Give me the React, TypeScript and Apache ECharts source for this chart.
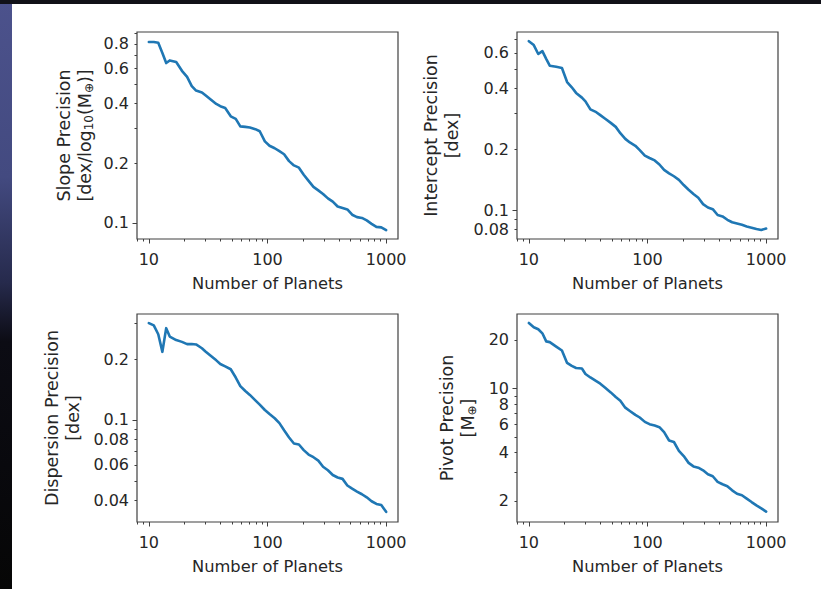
import React, { useEffect, useRef } from 'react';
import * as echarts from 'echarts';

// ---------- data ----------
const planets = [10, 11, 12, 13, 14, 15, 17, 19, 21, 23, 25, 28, 30, 33, 37, 40, 44, 49, 54, 59, 65, 71, 79, 86, 95, 104, 115, 126, 138, 152, 167, 184, 202, 222, 244, 268, 294, 323, 355, 390, 429, 471, 517, 568, 625, 686, 754, 828, 910, 1000];

const slopePrecision = [0.818, 0.818, 0.81, 0.72, 0.64, 0.66, 0.648, 0.585, 0.545, 0.49, 0.465, 0.455, 0.44, 0.42, 0.398, 0.388, 0.38, 0.345, 0.335, 0.307, 0.305, 0.303, 0.297, 0.29, 0.258, 0.245, 0.238, 0.23, 0.222, 0.205, 0.195, 0.19, 0.175, 0.163, 0.152, 0.146, 0.14, 0.133, 0.128, 0.121, 0.119, 0.117, 0.11, 0.107, 0.106, 0.103, 0.099, 0.0955, 0.095, 0.092];

const interceptPrecision = [0.685, 0.655, 0.592, 0.612, 0.56, 0.518, 0.512, 0.505, 0.43, 0.405, 0.38, 0.36, 0.345, 0.315, 0.305, 0.295, 0.283, 0.27, 0.258, 0.24, 0.225, 0.216, 0.208, 0.198, 0.186, 0.181, 0.176, 0.168, 0.158, 0.152, 0.147, 0.141, 0.133, 0.126, 0.12, 0.115, 0.107, 0.103, 0.101, 0.0945, 0.093, 0.0895, 0.087, 0.0858, 0.0845, 0.083, 0.0818, 0.0805, 0.0797, 0.081];

const dispersionPrecision = [0.301, 0.293, 0.265, 0.217, 0.284, 0.258, 0.248, 0.243, 0.237, 0.237, 0.236, 0.226, 0.218, 0.208, 0.197, 0.189, 0.184, 0.178, 0.162, 0.147, 0.139, 0.133, 0.125, 0.119, 0.112, 0.107, 0.102, 0.0965, 0.089, 0.082, 0.0765, 0.0757, 0.071, 0.0675, 0.0655, 0.063, 0.0588, 0.0565, 0.0535, 0.052, 0.0512, 0.0475, 0.0458, 0.0443, 0.043, 0.0415, 0.0397, 0.0385, 0.038, 0.0352];

const pivotPrecision = [25.5, 24.0, 23.3, 22.0, 19.6, 19.4, 18.2, 17.2, 14.4, 13.8, 13.4, 13.3, 12.3, 11.7, 11.1, 10.7, 10.1, 9.45, 8.85, 8.4, 7.6, 7.25, 6.85, 6.6, 6.2, 6.0, 5.88, 5.75, 5.35, 4.75, 4.65, 4.1, 3.8, 3.45, 3.28, 3.22, 3.1, 2.93, 2.85, 2.63, 2.54, 2.47, 2.33, 2.22, 2.17, 2.07, 1.97, 1.88, 1.8, 1.72];

// tick values
const xMajorTicks = [10, 100, 1000];
const xMinorTicks = [8, 9, 20, 30, 40, 50, 60, 70, 80, 90, 200, 300, 400, 500, 600, 700, 800, 900];

const slopeLabels = [0.1, 0.2, 0.4, 0.6, 0.8];
const slopeMajor = [0.1];
const slopeMinor = [0.2, 0.3, 0.4, 0.5, 0.6, 0.7, 0.8, 0.9];

const interceptLabels = [0.08, 0.1, 0.2, 0.4, 0.6];
const interceptMajor = [0.1];
const interceptMinor = [0.08, 0.09, 0.2, 0.3, 0.4, 0.5, 0.6, 0.7];

const dispersionLabels = [0.04, 0.06, 0.08, 0.1, 0.2];
const dispersionMajor = [0.1];
const dispersionMinor = [0.04, 0.05, 0.06, 0.07, 0.08, 0.09, 0.2, 0.3];

const pivotLabels = [2, 4, 6, 8, 10, 20];
const pivotMajor = [10];
const pivotMinor = [2, 3, 4, 5, 6, 7, 8, 9, 20];

const xTitle = 'Number of Planets';
const slopeTitle = 'Slope Precision\n[dex/log{sub|10}(M{sub|⊕})]';
const interceptTitle = 'Intercept Precision\n[dex]';
const dispersionTitle = 'Dispersion Precision\n[dex]';
const pivotTitle = 'Pivot Precision\n[M{sub|⊕}]';

// ---------- layout / style ----------
const W = 821;
const H = 589;
const X_MIN = Math.pow(10, 0.9);
const X_MAX = Math.pow(10, 3.1);
const FONT = 'DejaVu Sans';
const TEXT = '#262626';
const BOX = '#404040';
const LINE = '#1f77b4';

const panels = [
  { values: slopePrecision, title: slopeTitle, labels: slopeLabels, major: slopeMajor, minor: slopeMinor, yMin: 0.083, yMax: 0.918, left: 137, top: 32, width: 261, height: 207, nameGap: 42 },
  { values: interceptPrecision, title: interceptTitle, labels: interceptLabels, major: interceptMajor, minor: interceptMinor, yMin: 0.0719, yMax: 0.7605, left: 517, top: 32, width: 261, height: 207, nameGap: 55 },
  { values: dispersionPrecision, title: dispersionTitle, labels: dispersionLabels, major: dispersionMajor, minor: dispersionMinor, yMin: 0.03136, yMax: 0.3336, left: 137, top: 314, width: 261, height: 208, nameGap: 54 },
  { values: pivotPrecision, title: pivotTitle, labels: pivotLabels, major: pivotMajor, minor: pivotMinor, yMin: 1.481, yMax: 29.0, left: 517, top: 314, width: 261, height: 208, nameGap: 39 },
];

const fmt = (v: number) => String(+Number(v).toPrecision(3));

function buildOption() {
  const grid: any[] = [];
  const xAxis: any[] = [];
  const yAxis: any[] = [];
  const series: any[] = [];
  const tickLine = { color: BOX, width: 1 };
  const labelStyle = { fontFamily: FONT, fontSize: 16, color: TEXT };

  panels.forEach((p, i) => {
    grid.push({
      left: p.left, top: p.top, width: p.width, height: p.height,
      show: true, borderColor: BOX, borderWidth: 1.2, backgroundColor: 'transparent',
    });
    // x major (labels)
    xAxis.push({
      type: 'log', gridIndex: i, min: X_MIN, max: X_MAX, position: 'bottom',
      name: xTitle, nameLocation: 'middle', nameGap: 36,
      nameTextStyle: { fontFamily: FONT, fontSize: 16.3, color: TEXT },
      axisLine: { show: false, onZero: false },
      axisTick: { show: true, length: 4.5, customValues: xMajorTicks, lineStyle: tickLine },
      axisLabel: { show: true, customValues: xMajorTicks, margin: 12, formatter: fmt, ...labelStyle },
      splitLine: { show: false },
    });
    // x minor ticks
    xAxis.push({
      type: 'log', gridIndex: i, min: X_MIN, max: X_MAX, position: 'bottom',
      axisLine: { show: false, onZero: false },
      axisTick: { show: true, length: 2.5, customValues: xMinorTicks, lineStyle: tickLine },
      axisLabel: { show: false },
      splitLine: { show: false },
    });
    // y major (labels)
    yAxis.push({
      type: 'log', gridIndex: i, min: p.yMin, max: p.yMax, position: 'left',
      name: p.title, nameLocation: 'middle', nameGap: p.nameGap, nameRotate: 90,
      nameTextStyle: {
        fontFamily: FONT, fontSize: 17.5, color: TEXT, lineHeight: 21,
        rich: { sub: { fontFamily: FONT, fontSize: 12, color: TEXT, verticalAlign: 'bottom', lineHeight: 12 } },
      },
      axisLine: { show: false, onZero: false },
      axisTick: { show: true, length: 4.5, customValues: p.major, lineStyle: tickLine },
      axisLabel: { show: true, customValues: p.labels, margin: 8, formatter: fmt, lineHeight: 12, ...labelStyle },
      splitLine: { show: false },
    });
    // y minor ticks
    yAxis.push({
      type: 'log', gridIndex: i, min: p.yMin, max: p.yMax, position: 'left',
      axisLine: { show: false, onZero: false },
      axisTick: { show: true, length: 2.5, customValues: p.minor, lineStyle: tickLine },
      axisLabel: { show: false },
      splitLine: { show: false },
    });
    series.push({
      type: 'line', xAxisIndex: 2 * i, yAxisIndex: 2 * i,
      data: planets.map((n, k) => [n, p.values[k]]),
      showSymbol: false, symbol: 'none', silent: true,
      lineStyle: { color: LINE, width: 2.6, cap: 'round', join: 'round' },
    });
  });

  return {
    animation: false,
    backgroundColor: '#ffffff',
    grid, xAxis, yAxis, series,
    graphic: [
      {
        type: 'rect', left: 0, top: 0, z: -1, silent: true,
        shape: { x: 0, y: 0, width: 12, height: H },
        style: {
          fill: new echarts.graphic.LinearGradient(0, 0, 0, 1, [
            { offset: 0, color: '#4c528c' },
            { offset: 0.3, color: '#434a80' },
            { offset: 0.48, color: '#262a4c' },
            { offset: 0.58, color: '#0c0c14' },
            { offset: 1, color: '#060606' },
          ]),
        },
      },
      {
        type: 'rect', left: 0, top: 0, z: -1, silent: true,
        shape: { x: 0, y: 0, width: W, height: 4 },
        style: { fill: '#111118' },
      },
    ],
  };
}

export default function App() {
  const ref = useRef<HTMLDivElement>(null);
  useEffect(() => {
    const chart = echarts.init(ref.current as HTMLDivElement, null, { renderer: 'svg', width: W, height: H });
    chart.setOption(buildOption() as any);
    return () => chart.dispose();
  }, []);
  return (
    <div
      ref={ref}
      style={{ position: 'absolute', left: 0, top: 0, width: W, height: H, background: '#ffffff' }}
    />
  );
}
